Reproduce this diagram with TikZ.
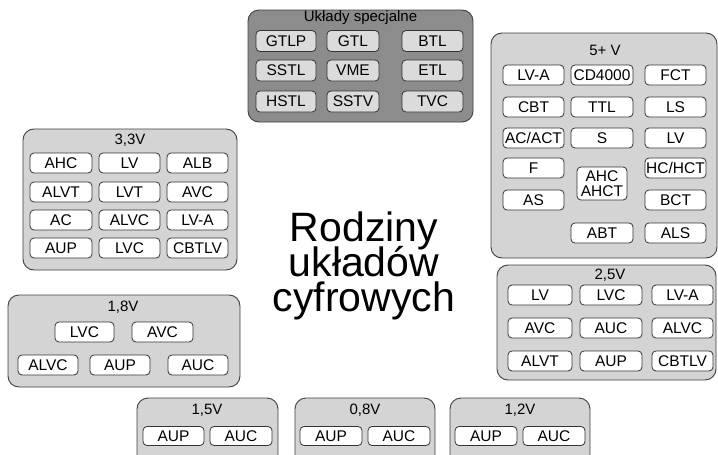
\documentclass[tikz,border=0pt]{standalone}
\usepackage{fontspec}
\setmainfont{Liberation Sans}
\newcommand\mytightlines{\lineskiplimit=-100pt\relax\lineskip=0pt\relax}
\begin{document}
\begin{tikzpicture}[x=1pt,y=-1pt,
  outerbox/.style={draw=black!75, line width=0.9pt, rounded corners=11pt, fill=black!17, inner sep=0pt},
  specbox/.style={draw=black!75, line width=0.9pt, rounded corners=11pt, fill=black!45, inner sep=0pt},
  ib/.style={draw=black!80, line width=0.8pt, rounded corners=4pt, fill=white, inner sep=0pt,
    minimum height=20pt, font=\fontsize{15.5}{17}\selectfont},
  sib/.style={ib, fill=black!14, minimum height=21pt},
  ttl/.style={inner sep=0pt, font=\fontsize{15}{17}\selectfont},
  big/.style={inner sep=0pt, align=center,
    font={\fontsize{41}{35}\selectfont\mytightlines}}]
\useasboundingbox (0,0) rectangle (718,455);
\clip (0,0) rectangle (718,455);
\fill[white] (0,0) rectangle (718,455);

% Special
\node[specbox, minimum width=225pt, minimum height=112pt] (spec) at (360.5,66) {};
\node[ttl] (specT) at (360.5,18) {Układy specjalne};
\node[sib, minimum width=60pt] (s11) at (286,41) {GTLP};
\node[sib, minimum width=52pt] (s12) at (353,41) {GTL};
\node[sib, minimum width=61pt] (s13) at (432.5,41) {BTL};
\node[sib, minimum width=60pt] (s21) at (286,70.5) {SSTL};
\node[sib, minimum width=52pt] (s22) at (353,70.5) {VME};
\node[sib, minimum width=61pt] (s23) at (432.5,70.5) {ETL};
\node[sib, minimum width=60pt] (s31) at (286,101.5) {HSTL};
\node[sib, minimum width=52pt] (s32) at (353,101.5) {SSTV};
\node[sib, minimum width=61pt] (s33) at (432.5,101.5) {TVC};

% 5+ V
\node[outerbox, minimum width=226pt, minimum height=225pt] (v5) at (604,145.5) {};
\node[ttl] (v5T) at (605,50) {5+ V};
\node[ib, minimum width=61pt] (a11) at (533.5,75) {LV-A};
\node[ib, minimum width=62pt] (a12) at (602,75) {CD4000};
\node[ib, minimum width=61pt] (a13) at (675.5,75) {FCT};
\node[ib, minimum width=61pt] (a21) at (533.5,107) {CBT};
\node[ib, minimum width=62pt] (a22) at (602,107) {TTL};
\node[ib, minimum width=61pt] (a23) at (675.5,107) {LS};
\node[ib, minimum width=61pt] (a31) at (533.5,138) {AC/ACT};
\node[ib, minimum width=62pt] (a32) at (602,138) {S};
\node[ib, minimum width=61pt] (a33) at (675.5,138) {LV};
\node[ib, minimum width=61pt] (a41) at (533.5,168) {F};
\node[ib, minimum width=61pt] (a43) at (675.5,168) {HC/HCT};
\node[ib, minimum width=50pt, minimum height=33pt, align=center,
  font=\fontsize{15.5}{15}\selectfont] (a42) at (602,183.5) {AHC\\AHCT};
\node[ib, minimum width=61pt] (a51) at (533.5,200) {AS};
\node[ib, minimum width=61pt] (a53) at (675.5,200) {BCT};
\node[ib, minimum width=62pt] (a62) at (602,233) {ABT};
\node[ib, minimum width=61pt] (a63) at (675.5,233) {ALS};

% 3,3V
\node[outerbox, minimum width=214pt, minimum height=141pt] (v33) at (130,199.5) {};
\node[ttl] (v33T) at (130,140) {3,3V};
\node[ib, minimum width=62pt] (b11) at (61,163) {AHC};
\node[ib, minimum width=61pt] (b12) at (129.5,163) {LV};
\node[ib, minimum width=61pt] (b13) at (197.5,163) {ALB};
\node[ib, minimum width=62pt] (b21) at (61,192) {ALVT};
\node[ib, minimum width=61pt] (b22) at (129.5,192) {LVT};
\node[ib, minimum width=61pt] (b23) at (197.5,192) {AVC};
\node[ib, minimum width=62pt] (b31) at (61,220) {AC};
\node[ib, minimum width=61pt] (b32) at (129.5,220) {ALVC};
\node[ib, minimum width=61pt] (b33) at (197.5,220) {LV-A};
\node[ib, minimum width=62pt] (b41) at (61,248) {AUP};
\node[ib, minimum width=61pt] (b42) at (129.5,248) {LVC};
\node[ib, minimum width=61pt] (b43) at (197.5,248) {CBTLV};

% 1,8V
\node[outerbox, minimum width=232pt, minimum height=92pt] (v18) at (124,341) {};
\node[ttl] (v18T) at (123,307) {1,8V};
\node[ib, minimum width=59pt] (c11) at (84.5,332) {LVC};
\node[ib, minimum width=61pt] (c12) at (162.5,332) {AVC};
\node[ib, minimum width=60pt] (c21) at (48,365) {ALVC};
\node[ib, minimum width=60pt] (c22) at (120,365) {AUP};
\node[ib, minimum width=60pt] (c23) at (198,365) {AUC};

% 2,5V
\node[outerbox, minimum width=219pt, minimum height=115pt] (v25) at (606.5,322.5) {};
\node[ttl] (v25T) at (610,275) {2,5V};
\node[ib, minimum width=64pt] (d11) at (540,295) {LV};
\node[ib, minimum width=62pt] (d12) at (611,295) {LVC};
\node[ib, minimum width=61pt] (d13) at (682.5,295) {LV-A};
\node[ib, minimum width=64pt] (d21) at (540,328) {AVC};
\node[ib, minimum width=62pt] (d22) at (611,328) {AUC};
\node[ib, minimum width=61pt] (d23) at (682.5,328) {ALVC};
\node[ib, minimum width=64pt] (d31) at (540,361) {ALVT};
\node[ib, minimum width=62pt] (d32) at (611,361) {AUP};
\node[ib, minimum width=61pt] (d33) at (682.5,361) {CBTLV};

% bottom row
\node[outerbox, minimum width=141pt, minimum height=80pt] (v15) at (207.5,438) {};
\node[ttl] (v15T) at (207,410) {1,5V};
\node[ib, minimum width=61pt, minimum height=19pt] (e1) at (173.5,436) {AUP};
\node[ib, minimum width=62pt, minimum height=19pt] (e2) at (241,436) {AUC};

\node[outerbox, minimum width=140pt, minimum height=80pt] (v08) at (365,438) {};
\node[ttl] (v08T) at (365,410) {0,8V};
\node[ib, minimum width=62pt, minimum height=19pt] (f1) at (331,436) {AUP};
\node[ib, minimum width=62pt, minimum height=19pt] (f2) at (399,436) {AUC};

\node[outerbox, minimum width=140pt, minimum height=80pt] (v12) at (520,438) {};
\node[ttl] (v12T) at (520,410) {1,2V};
\node[ib, minimum width=62pt, minimum height=19pt] (g1) at (486,436) {AUP};
\node[ib, minimum width=62pt, minimum height=19pt] (g2) at (554,436) {AUC};

% center title
\node[big, anchor=north] (title) at (364,212) {Rodziny\\układów\\cyfrowych};
\end{tikzpicture}
\end{document}
